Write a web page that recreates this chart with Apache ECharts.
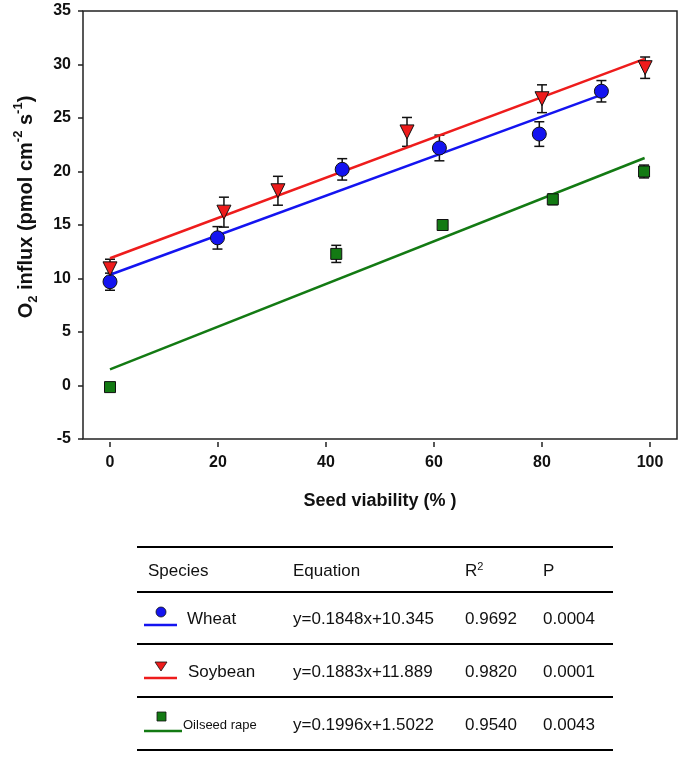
<!DOCTYPE html>
<html>
<head>
<meta charset="utf-8">
<script src="https://cdn.jsdelivr.net/npm/echarts@6/dist/echarts.min.js"></script>
<style>
  html, body { margin: 0; padding: 0; background: #fff; }
  #chart { width: 685px; height: 757px; }
</style>
</head>
<body>
<div id="chart"></div>
<script>
// measured points: [viability %, O2 influx, SE]
const wheatPts = [[0, 9.7, 0.8], [19.9, 13.8, 1.05], [43, 20.2, 1.0], [61, 22.2, 1.2], [79.5, 23.5, 1.15], [91, 27.5, 1.0]];
const soyPts = [[0, 10.9, 0.9], [21.1, 16.2, 1.4], [31.1, 18.2, 1.35], [55, 23.7, 1.35], [80, 26.8, 1.3], [99.1, 29.7, 1.0]];
const rapePts = [[0, -0.15, 0.2], [41.9, 12.3, 0.8], [61.6, 15.0, 0.45], [82, 17.4, 0.5], [98.9, 20.0, 0.6]];

// regression line end points
const wheatFit = [[0, 10.35], [91, 27.16]];
const soyFit = [[0, 11.89], [99, 30.53]];
const rapeFit = [[0, 1.50], [99, 21.26]];

const xTicks = [0, 20, 40, 60, 80, 100];

// table rows
const species = ['Wheat', 'Soybean', 'Oilseed rape'];
const equations = ['y=0.1848x+10.345', 'y=0.1883x+11.889', 'y=0.1996x+1.5022'];
const r2Values = ['0.9692', '0.9820', '0.9540'];
const pValues = ['0.0004', '0.0001', '0.0043'];

const BLUE = '#1414f0', RED = '#ee1c1c', GREEN = '#137a13';
const FONT = '"Liberation Sans", Arial, sans-serif';

const chart = echarts.init(document.getElementById('chart'));

function errBar(data, name) {
  return {
    name: name,
    type: 'custom',
    z: 1,
    data: data,
    renderItem: function (params, api) {
      const x = api.value(0), y = api.value(1), e = api.value(2);
      const top = api.coord([x, y + e]);
      const bot = api.coord([x, y - e]);
      const w = 5;
      return {
        type: 'group',
        children: [
          { type: 'line', shape: { x1: top[0], y1: top[1], x2: bot[0], y2: bot[1] }, style: { stroke: '#111', lineWidth: 1.5 } },
          { type: 'line', shape: { x1: top[0] - w, y1: top[1], x2: top[0] + w, y2: top[1] }, style: { stroke: '#111', lineWidth: 1.5 } },
          { type: 'line', shape: { x1: bot[0] - w, y1: bot[1], x2: bot[0] + w, y2: bot[1] }, style: { stroke: '#111', lineWidth: 1.5 } }
        ]
      };
    }
  };
}

function fitLine(data, color) {
  return {
    type: 'line', data: data, symbol: 'none', z: 2,
    lineStyle: { color: color, width: 2.5 }
  };
}

function points(data, symbol, size, color, rotate) {
  return {
    type: 'scatter', data: data, symbol: symbol, symbolSize: size, symbolRotate: rotate || 0, z: 3,
    itemStyle: { color: color, borderColor: '#111', borderWidth: 1, opacity: 1 }
  };
}

// table graphics
const tableLeft = 137, tableRight = 613;
const ruleYs = [547, 592, 644, 697, 750];
const rowYs = [619, 672, 725];
const colX = [148, 293, 465, 543];
const graphics = [];
ruleYs.forEach(function (y) {
  graphics.push({ type: 'line', shape: { x1: tableLeft, y1: y, x2: tableRight, y2: y }, style: { stroke: '#000', lineWidth: 2 } });
});
const headStyle = { fontSize: 17, fontFamily: FONT, fill: '#111', verticalAlign: 'middle' };
['Species', 'Equation', 'R{sup|2}', 'P'].forEach(function (t, i) {
  graphics.push({
    type: 'text', x: colX[i], y: 571,
    style: Object.assign({ text: t, rich: { sup: { fontSize: 11, fontFamily: FONT, fill: '#111', verticalAlign: 'top', lineHeight: 20 } } }, headStyle)
  });
});
const colors = [BLUE, RED, GREEN];
rowYs.forEach(function (y, i) {
  const lx1 = 144, lx2 = i === 2 ? 182 : 177;
  graphics.push({ type: 'line', shape: { x1: lx1, y1: y + 6, x2: lx2, y2: y + 6 }, style: { stroke: colors[i], lineWidth: 2.5 } });
  if (i === 0) {
    graphics.push({ type: 'circle', shape: { cx: 161, cy: y - 7, r: 5 }, style: { fill: BLUE, stroke: '#111', lineWidth: 0.8 } });
  } else if (i === 1) {
    graphics.push({ type: 'polygon', shape: { points: [[155, y - 10], [167, y - 10], [161, y - 1]] }, style: { fill: RED, stroke: '#111', lineWidth: 0.8 } });
  } else {
    graphics.push({ type: 'rect', shape: { x: 157, y: y - 13, width: 9, height: 9 }, style: { fill: GREEN, stroke: '#111', lineWidth: 0.8 } });
  }
  graphics.push({ type: 'text', x: i === 2 ? 183 : (i === 0 ? 187 : 188), y: y,
    style: { text: species[i], fontSize: i === 2 ? 13 : 17, fontFamily: FONT, fill: '#111', verticalAlign: 'middle' } });
  graphics.push({ type: 'text', x: colX[1], y: y, style: { text: equations[i], fontSize: 17, fontFamily: FONT, fill: '#111', verticalAlign: 'middle' } });
  graphics.push({ type: 'text', x: colX[2], y: y, style: { text: r2Values[i], fontSize: 17, fontFamily: FONT, fill: '#111', verticalAlign: 'middle' } });
  graphics.push({ type: 'text', x: colX[3], y: y, style: { text: pValues[i], fontSize: 17, fontFamily: FONT, fill: '#111', verticalAlign: 'middle' } });
});

// y axis title with sub/superscripts
graphics.push({
  type: 'text', x: 26, y: 207, rotation: Math.PI / 2,
  style: {
    text: 'O{sub|2} influx (pmol cm{sup|-2} s{sup|-1})',
    fontSize: 20, fontWeight: 'bold', fontFamily: FONT, fill: '#111',
    align: 'center', verticalAlign: 'middle',
    rich: {
      sub: { fontSize: 13, fontWeight: 'bold', fontFamily: FONT, fill: '#111', verticalAlign: 'bottom', lineHeight: 28 },
      sup: { fontSize: 13, fontWeight: 'bold', fontFamily: FONT, fill: '#111', verticalAlign: 'top', lineHeight: 28 }
    }
  }
});

const option = {
  animation: false,
  backgroundColor: '#fff',
  grid: { left: 83, top: 11, width: 594, height: 428, show: true, borderColor: '#222', borderWidth: 1.5, backgroundColor: 'transparent' },
  xAxis: {
    type: 'value', min: -5, max: 105, offset: 3, position: 'bottom',
    name: 'Seed viability (% )', nameLocation: 'middle', nameGap: 50,
    nameTextStyle: { fontSize: 18, fontWeight: 'bold', fontFamily: FONT, color: '#111' },
    axisLine: { show: false, onZero: false },
    axisTick: { show: true, length: 5, inside: false, customValues: xTicks, lineStyle: { color: '#222', width: 1.5 } },
    axisLabel: { customValues: xTicks, margin: 13, fontSize: 16, fontWeight: 'bold', fontFamily: FONT, color: '#111' },
    splitLine: { show: false }
  },
  yAxis: {
    type: 'value', min: -5, max: 35, interval: 5, position: 'left',
    axisLine: { show: false, onZero: false },
    axisTick: { show: true, length: 5, lineStyle: { color: '#222', width: 1.5 } },
    axisLabel: { margin: 12, fontSize: 16, fontWeight: 'bold', fontFamily: FONT, color: '#111' },
    splitLine: { show: false }
  },
  graphic: graphics,
  series: [
    errBar(wheatPts, 'wheatErr'),
    errBar(soyPts, 'soyErr'),
    errBar(rapePts, 'rapeErr'),
    fitLine(wheatFit, BLUE),
    fitLine(soyFit, RED),
    fitLine(rapeFit, GREEN),
    points(wheatPts, 'circle', 14, BLUE),
    points(soyPts, 'triangle', 14, RED, 180),
    points(rapePts, 'rect', 11, GREEN)
  ]
};

chart.setOption(option);
</script>
</body>
</html>
